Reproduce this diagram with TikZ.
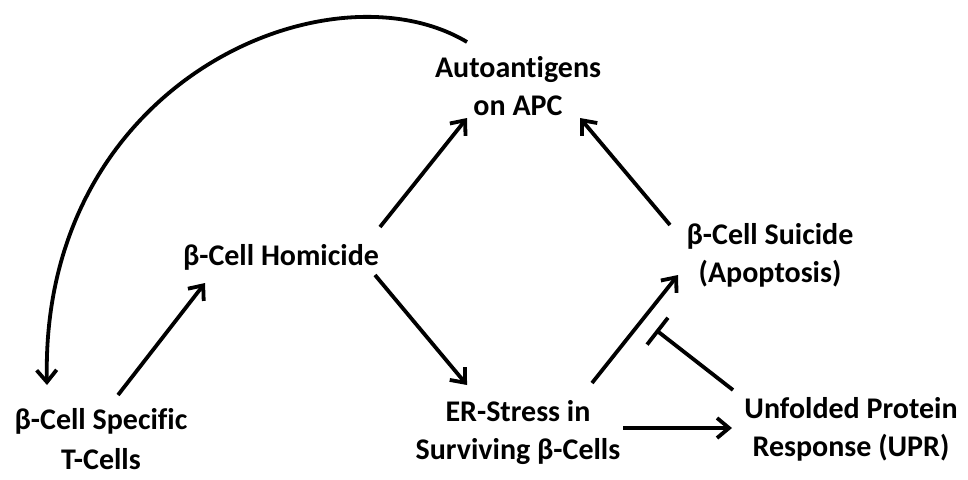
\documentclass[tikz,border=0pt]{standalone}
\usepackage{fontspec}
\setmainfont{Carlito}[Ligatures=NoCommon]
\usetikzlibrary{arrows.meta,calc,positioning}

\begin{document}
\begin{tikzpicture}[
  x=0.5pt, y=-0.5pt,
  txt/.style={
    inner sep=0pt,
    align=center,
    font=\bfseries\fontsize{15}{19}\selectfont
  },
  edge/.style={line width=1.9pt, -{Straight Barb[length=6pt,width=10pt]}},
  inhib/.style={line width=1.9pt, -{Bar[width=17pt]}}
]
\useasboundingbox (0,0) rectangle (968,479);

\node[txt] (auto) at (518,86) {Autoantigens\\on APC};

\node[txt] (homicide) at (281,257) {β-Cell Homicide};

\node[txt] (suicide) at (770,255) {β-Cell Suicide\\(Apoptosis)};

\node[txt, font=\bfseries\fontsize{15}{20}\selectfont] (tcell) at (101,439)
{β-Cell Specific\\T-Cells};

\node[txt] (er) at (518,432) {ER-Stress in\\Surviving β-Cells};

\node[txt] (upr) at (851,429) {Unfolded Protein\\Response (UPR)};

\draw[edge] ([shift={(17,-44)}]tcell.center) -- ([shift={(-76,26)}]homicide.center);
\draw[edge] ([shift={(94,18)}]homicide.center) -- ([shift={(-51,-47)}]er.center);
\draw[edge] ([shift={(99,-30)}]homicide.center) -- ([shift={(-51,32)}]auto.center);
\draw[edge] ([shift={(-100,-30)}]suicide.center) -- ([shift={(62,32)}]auto.center);
\draw[edge] ([shift={(74,-49)}]er.center) -- ([shift={(-92,20)}]suicide.center);
\draw[edge] ([shift={(105,-4)}]er.center) -- ([shift={(-119,-1)}]upr.center);
\draw[inhib] ([shift={(-118,-39)}]upr.center) -- ([shift={(-114,75)}]suicide.center);

% feedback loop to the T-cells
\draw[edge] ([shift={(-51,-44)}]auto.center)
  .. controls +(-137,-82) and +(-7,-305) .. ([shift={(-54,-54)}]tcell.center);

\end{tikzpicture}
\end{document}
